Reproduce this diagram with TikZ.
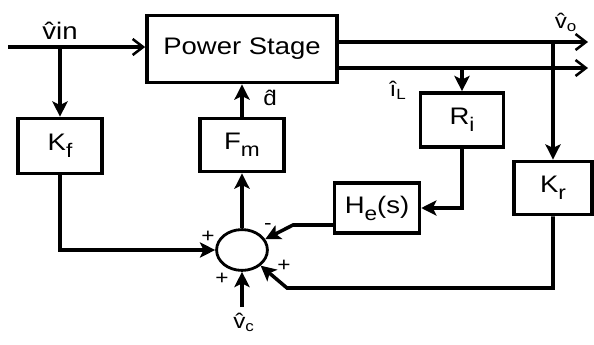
\documentclass[tikz,border=0pt]{standalone}
\usepackage{fontspec}
\setmainfont{Liberation Sans}[FakeStretch=1.15]
\usetikzlibrary{arrows.meta,shapes.geometric}

\newcommand{\blksub}[1]{\raisebox{-0.55ex}{\fontsize{14}{16}\selectfont #1}}

\begin{document}
\begin{tikzpicture}[
    x=0.025cm, y=-0.025cm,
    every node/.style={font=\fontsize{17}{20}\selectfont, text=black},
    block/.style={draw, line width=2.6pt, inner sep=0pt},
    sig/.style={line width=2.5pt},
    fwd/.style={sig, -{Stealth[length=3.8mm, width=3.8mm, inset=0.9mm]}},
    barb/.style={sig, -{Straight Barb[length=2.6mm, width=4mm, line width=1.8pt]}},
    sign/.style={font=\fontsize{14}{16}\selectfont, inner sep=0pt}
]
    \useasboundingbox (0,0) rectangle (594,344);

    % ==========================
    % BLOCKS
    % ==========================
    \node[block, minimum width=4.75cm, minimum height=1.68cm] (ps) at (242,49) {Power Stage};

    \foreach \name/\px/\py/\w/\h/\txt in {
        kf/60/146/2.1/1.375/{K\blksub{f}},
        fm/242/145/2.1/1.33/{F\blksub{m}},
        ri/462/120/2.08/1.35/{R\blksub{i}},
        kr/553/188/1.95/1.33/{K\blksub{r}},
        he/377/208/2.12/1.25/{H\blksub{e}(s)}}
    {
        \node[block, minimum width=\w cm, minimum height=\h cm] (\name) at (\px,\py) {\txt};
    }

    % summing junction
    \node[draw, ellipse, line width=2pt, minimum width=1.27cm, minimum height=1.02cm, inner sep=0pt] (sum) at (242,250) {};

    % ==========================
    % SIGNALS
    % ==========================
    \coordinate (vin) at (8,47);
    \coordinate (vo) at (588,42);
    \coordinate (il) at (588,68);
    \coordinate (vc) at (242,307);
    \coordinate (hebend) at (293,225);
    \coordinate (krbend) at (287,288);

    \draw[barb] (vin) -- (vin -| ps.west);
    \draw[barb] (vo -| ps.east) -- (vo);
    \draw[barb] (il -| ps.east) -- (il);

    \draw[fwd] (vin -| kf) -- (kf.north);
    \draw[fwd] (vo -| kr) -- (kr.north);
    \draw[fwd] (il -| ri) -- (ri.north);

    \draw[fwd] (kf.south) |- (sum.west);
    \draw[fwd] (sum.north) -- (fm.south);
    \draw[fwd] (fm.north) -- (ps.south);
    \draw[fwd] (ri.south) |- (he.east);
    \draw[fwd] (he.west |- hebend) -- (hebend) -- (sum.25);
    \draw[fwd] (kr.south) |- (krbend) -- (sum.-40);
    \draw[fwd] (vc) -- (sum.south);

    % ==========================
    % LABELS
    % ==========================
    \node (lvin) at (60,31) {\^{v}in};
    \node[font=\fontsize{15}{17}\selectfont] (lvo) at (566,22) {\^{v}\textsubscript{o}};
    \node[font=\fontsize{15}{17}\selectfont] (ld) at (270,98) {\^{d}};
    \node[font=\fontsize{15}{17}\selectfont] (lil) at (398,90) {\^{i}\textsubscript{L}};
    \node[font=\fontsize{15}{17}\selectfont] (lvc) at (244,322) {\^{v}\textsubscript{c}};

    \foreach \px/\py/\s [count=\k] in {208/237/+, 222/279/+, 284/266/+, 268/226/-}
    {
        \node[sign] (sg\k) at (\px,\py) {\s};
    }
\end{tikzpicture}
\end{document}
